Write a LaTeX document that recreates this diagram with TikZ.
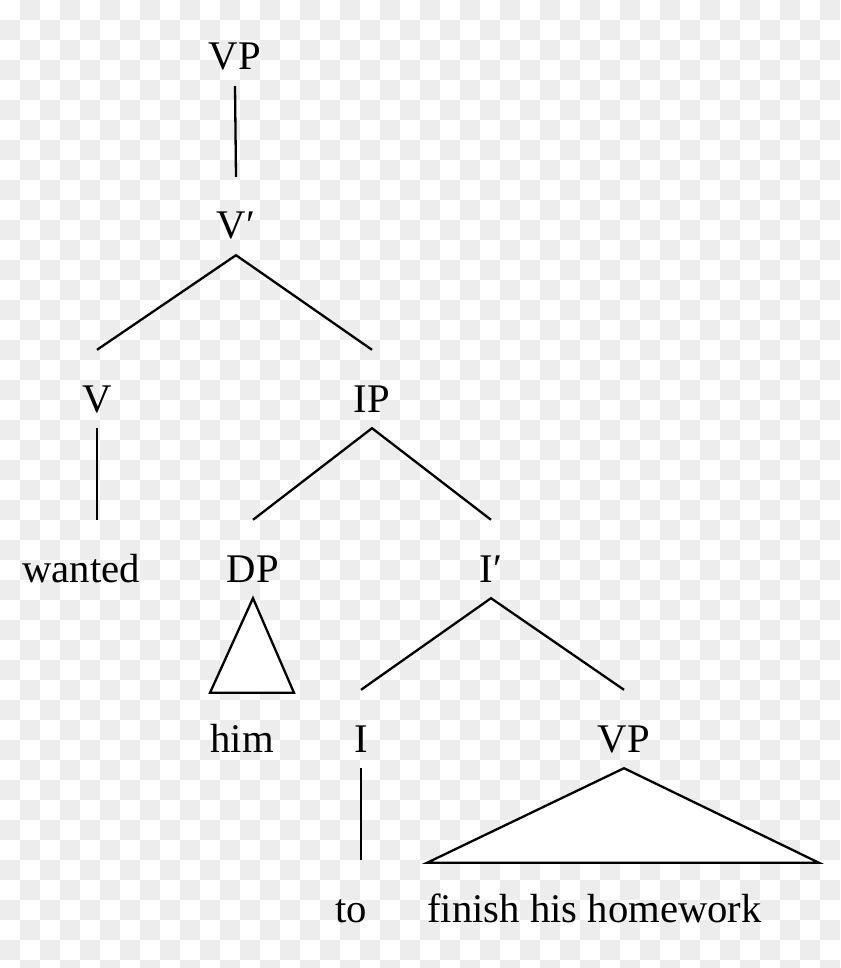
\documentclass[tikz,border=0pt]{standalone}
\usepackage{fontspec}
\setmainfont{Liberation Serif}
\usetikzlibrary{calc}
\definecolor{checker}{HTML}{EDEDED}

\begin{document}
\begin{tikzpicture}
      [%%%%%%%%%%%%%%%%%%%%%%%%%%%%%%
      x=1pt, y=-1pt,
      lbl/.style={anchor=base, inner sep=0pt, text height=62pt, text depth=16pt,
        font=\fontsize{40.7pt}{48pt}\selectfont},
      edge/.style={draw=black, line width=2.3pt},
      ]%%%%%%%%%%%%%%%%%%%%%%%%%%%%%%

      \useasboundingbox (0,0) rectangle (840,968);
      \fill[white] (0,0) rectangle (840,968);
      \foreach \x in {0,2,...,40}{
        \foreach \y in {1,3,...,47}
        \fill[checker] (\x*20,\y*20) rectangle ++(20,20);
      }
      \foreach \x in {1,3,...,41}{
        \foreach \y in {0,2,...,48}
        \fill[checker] (\x*20,\y*20) rectangle ++(20,20);
      }

      \node[lbl] (vp)     at (235,70)  {VP};
      \node[lbl] (vbar)   at (236,239) {V′};
      \node[lbl] (v)      at (97,412)  {V};
      \node[lbl] (ip)     at (372,412) {IP};
      \node[lbl] (wanted) at (81,582)  {wanted};
      \node[lbl] (dp)     at (253,582) {DP};
      \node[lbl] (ibar)   at (491,582) {I′};
      \node[lbl] (him)    at (242,752) {him};
      \node[lbl] (i)      at (361,752) {I};
      \node[lbl] (vpl)    at (624,752) {VP};
      \node[lbl] (to)     at (351,922) {to};
      \node[lbl,anchor=base west] (finish) at (427,922) {finish his homework};

      \coordinate (himleft)  at ($(him.north)+(-32,3)$);
      \coordinate (himright) at ($(him.north)+(52,3)$);
      \coordinate (finright) at ($(finish.north west)+(392,3)$);
      \coordinate (finleft)  at ($(finish.north west)+(0,3)$);

      \draw[edge] (vp.south) -- (vbar.north);
      \draw[edge] (v.north) -- (vbar.south) -- (ip.north);
      \draw[edge] (v.south) -- (v.south |- wanted.north);
      \draw[edge] (dp.north) -- (ip.south) -- (ibar.north);
      \draw[edge] (i.north) -- (ibar.south) -- (vpl.north);
      \draw[edge] (i.south) -- (i.south |- to.north);

      \draw[edge,fill=white] (dp.south) -- (himleft) -- (himright) -- cycle;
      \draw[edge,fill=white] (vpl.south) -- (finleft) -- (finright) -- cycle;
    \end{tikzpicture}
\end{document}
